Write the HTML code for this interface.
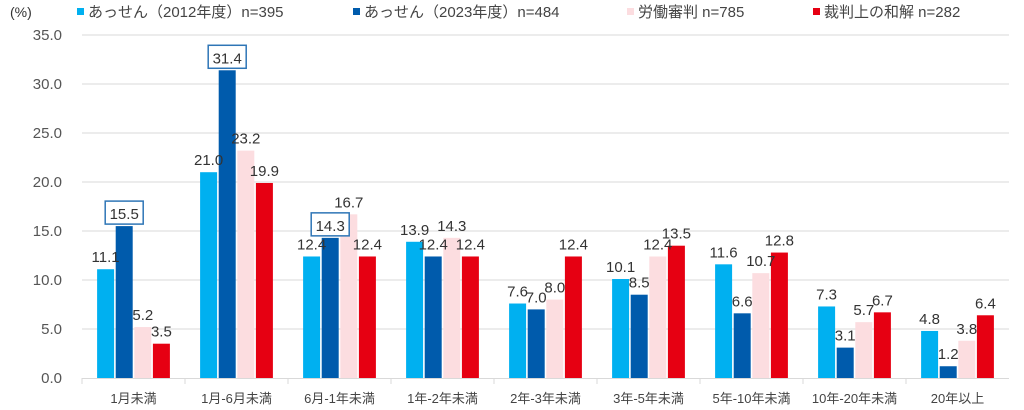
<!DOCTYPE html>
<html><head><meta charset="utf-8">
<style>
html,body{margin:0;padding:0;background:#fff;width:1024px;height:410px;overflow:hidden}
svg text{font-family:"Liberation Sans","Noto Sans CJK JP",sans-serif}
</style></head>
<body>
<svg id="chart" width="1024" height="410" xmlns="http://www.w3.org/2000/svg">
<text x="10" y="17" font-size="14" fill="#333">(%)</text>
<g id="legend"></g>
<g id="grid"></g>
<g id="bars"></g>
<g id="labels"></g>
<g id="axis"></g>
</svg>
<script>
const categories=["1月未満","1月-6月未満","6月-1年未満","1年-2年未満","2年-3年未満","3年-5年未満","5年-10年未満","10年-20年未満","20年以上"];
const seriesNames=["あっせん（2012年度）n=395","あっせん（2023年度）n=484","労働審判 n=785","裁判上の和解 n=282"];
const s2012=[11.1,21.0,12.4,13.9,7.6,10.1,11.6,7.3,4.8];
const s2023=[15.5,31.4,14.3,12.4,7.0,8.5,6.6,3.1,1.2];
const sShinpan=[5.2,23.2,16.7,14.3,8.0,12.4,10.7,5.7,3.8];
const sWakai=[3.5,19.9,12.4,12.4,12.4,13.5,12.8,6.7,6.4];
const yTicks=[0,5,10,15,20,25,30,35];
const boxed=[[1,0],[1,1],[1,2]];
const colors=["#00B0F0","#005BAC","#FCDDE0","#E60012"];
const series=[s2012,s2023,sShinpan,sWakai];
const NS="http://www.w3.org/2000/svg";
const X0=82,X1=1009,Y0=378,Y35=35;
const cw=(X1-X0)/categories.length;
const y=v=>Y0-(v/35)*(Y0-Y35);
const bw=17,gap=1.6;
function mk(tag,attrs,parent,txt){const e=document.createElementNS(NS,tag);for(const k in attrs)e.setAttribute(k,attrs[k]);if(txt!==undefined)e.textContent=txt;parent.appendChild(e);return e;}
const grid=document.getElementById('grid'),bars=document.getElementById('bars'),labels=document.getElementById('labels'),axis=document.getElementById('axis'),legend=document.getElementById('legend');
yTicks.forEach(t=>{
 if(t>0){const l=mk('line',{x1:X0,x2:X1,y1:y(t),y2:y(t),stroke:'#d9d9d9','stroke-width':1},grid);
 
 }
 const tx=mk('text',{x:62,y:y(t)+5,'font-size':15,fill:'#555','text-anchor':'end'},axis,t.toFixed(1));
 
 
});
const base=mk('line',{x1:X0,x2:X1,y1:Y0+0.5,y2:Y0+0.5,stroke:'#d9d9d9','stroke-width':1},axis);


categories.forEach((c,i)=>{
 const cx=X0+cw*(i+0.5);
 const tk=mk('line',{x1:X0+cw*i,x2:X0+cw*i,y1:Y0,y2:Y0+6,stroke:'#d9d9d9'},axis);
 
 
 const t=mk('text',{x:cx,y:Y0+25,'font-size':13,fill:'#444','text-anchor':'middle'},axis,c);
 
 
 const total=4*bw+3*gap;
 series.forEach((s,k)=>{
  const bx=cx-total/2+k*(bw+gap);
  const r=mk('rect',{x:bx,y:y(s[i]),width:bw,height:Y0-y(s[i]),fill:colors[k]},bars);
  
  
  const lx=bx+bw/2,ly=y(s[i])-6;
  const isBox=boxed.some(b=>b[0]===k&&b[1]===i);
  if(isBox){const bb=mk('rect',{x:lx-19,y:ly-19,width:38,height:23,fill:'#fff',stroke:'#2E75B6','stroke-width':1.5},labels);
   
   }
  const lt=mk('text',{x:lx,y:ly-1,'font-size':15,fill:'#333','text-anchor':'middle'},labels,s[i].toFixed(1));
  
  
 });
});
const lx=[77,353,627,813];
seriesNames.forEach((n,k)=>{
 const r=mk('rect',{x:lx[k],y:8,width:7,height:7,fill:colors[k]},legend);
 
 
 const t=mk('text',{x:lx[k]+11,y:17,'font-size':15,fill:'#444'},legend,n);
 
 
});
</script>
</body></html>
